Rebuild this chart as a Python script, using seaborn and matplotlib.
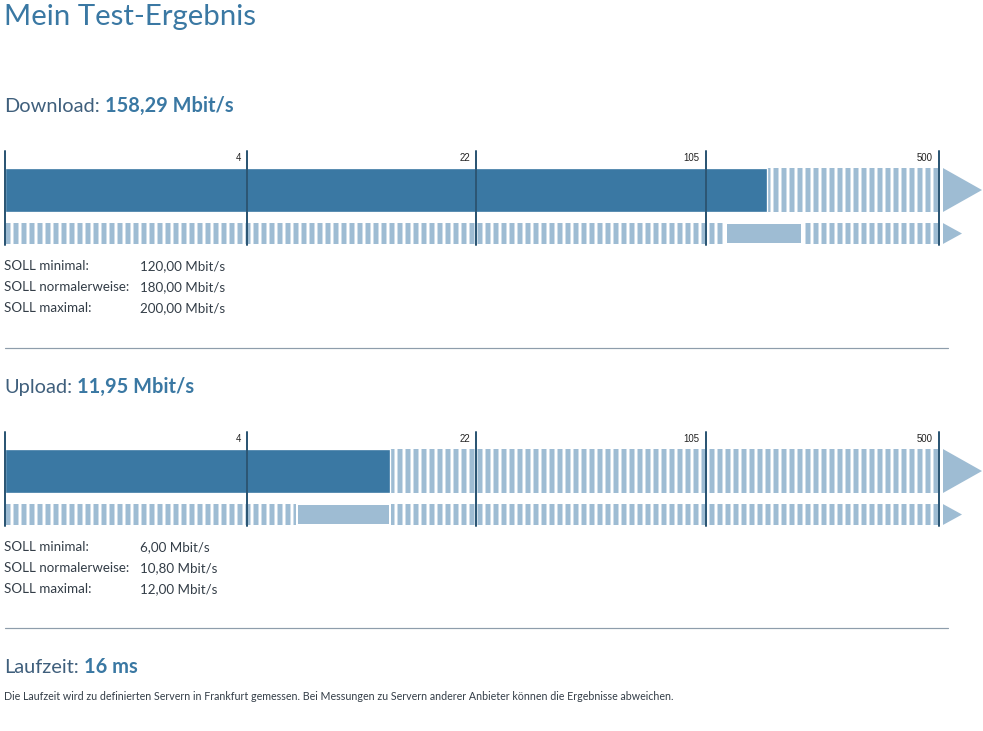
import numpy as np
import pandas as pd
import seaborn as sns
import matplotlib.pyplot as plt
from matplotlib.patches import Polygon
from matplotlib.lines import Line2D
from matplotlib.transforms import blended_transform_factory, offset_copy

# Skala und Messwerte
tick_values = [0, 4, 22, 105, 500]
tick_labels = ['', '4', '22', '105', '500']
download_value = 158.29
upload_value = 11.95
soll_names = ['SOLL minimal:', 'SOLL normalerweise:', 'SOLL maximal:']
download_soll = [120.0, 180.0, 200.0]   # minimal, normal, maximal
upload_soll = [6.0, 10.8, 12.0]
ping_ms = 16
footnote = ('Die Laufzeit wird zu definierten Servern in Frankfurt gemessen. '
            'Bei Messungen zu Servern anderer Anbieter können die Ergebnisse abweichen.')

# Farben
blue = '#3a78a3'
light = '#9ebcd3'
tickc = '#2c5674'
headc = '#3f5f7c'
textc = '#333d47'
linec = '#8e9dab'

sns.set_theme(style='white')
plt.rcParams['font.family'] = ['Lato', 'DejaVu Sans']
plt.rcParams['hatch.linewidth'] = 2.25

W, H, DPI = 983, 731, 96
fig = plt.figure(figsize=(W / DPI, H / DPI), dpi=DPI)
renderer = fig.canvas.get_renderer()


def mbit(v):
    return f'{v:.2f}'.replace('.', ',') + ' Mbit/s'


def heading(y, label, value_text):
    t = fig.text(4 / W, 1 - y / H, label, fontsize=15, color=headc, va='baseline')
    bb = t.get_window_extent(renderer)
    fig.text((bb.x1 + 5) / W, 1 - y / H, value_text, fontsize=15,
             fontweight='bold', color=blue, va='baseline')


def soll_block(y0, soll):
    for i, name in enumerate(soll_names):
        fig.text(4 / W, 1 - (y0 + i * 21) / H, name, fontsize=10, color=textc, va='baseline')
        fig.text(140 / W, 1 - (y0 + i * 21) / H, mbit(soll[i]), fontsize=10,
                 color=textc, va='baseline')


def speed_axes(top, value, soll):
    # Achse: 0 bei px 5, 500 bei px 939, log(1+x)-Skala
    ax = fig.add_axes([5 / W, 1 - (top + 94) / H, 978 / W, 94 / H])
    ax.set_xscale('function', functions=(np.log1p, np.expm1))
    x_right = np.expm1(np.log1p(500) * 978 / 934)
    main_h, soll_h = 1.01, 0.49

    # gemessener Wert
    df = pd.DataFrame({'row': ['Messung'], 'mbit': [value]})
    sns.barplot(data=df, x='mbit', y='row', orient='h', color=blue,
                saturation=1, width=main_h, ax=ax, zorder=2)

    # gestreifter Hintergrund
    ax.barh([0, 1], [500, 500], height=[main_h, soll_h], left=0, color=light,
            edgecolor='white', linewidth=0, hatch='||', zorder=0.5)
    # SOLL-Bereich min..max
    ax.barh(1, soll[2] - soll[0], left=soll[0], height=soll_h, color=light,
            edgecolor='white', linewidth=1.5, zorder=1)

    for v, lab in zip(tick_values, tick_labels):
        ax.axvline(v, color=tickc, lw=1.5, zorder=3, clip_on=False)
        ax.text(v, -0.74, lab, fontsize=7.2, family=['Liberation Sans', 'DejaVu Sans'],
                color='#222222', ha='right', va='center',
                transform=offset_copy(ax.transData, fig=fig, x=-6, y=0, units='dots'))

    # Pfeile rechts
    tr = blended_transform_factory(ax.transAxes, ax.transData)
    fx = lambda px: (px - 5) / 978
    ax.add_patch(Polygon([(fx(943), -main_h / 2), (fx(982), 0), (fx(943), main_h / 2)],
                         closed=True, transform=tr, color=light, lw=0, clip_on=False))
    ax.add_patch(Polygon([(fx(943), 1 - 0.24), (fx(962), 1), (fx(943), 1 + 0.24)],
                         closed=True, transform=tr, color=light, lw=0, clip_on=False))

    ax.set_xlim(0, x_right)
    ax.set_ylim(1.264, -0.897)
    ax.axis('off')
    return ax


fig.text(4 / W, 1 - 25 / H, 'Mein Test-Ergebnis', fontsize=22, color=blue, va='baseline')

# Download
heading(112, 'Download:', mbit(download_value))
speed_axes(151, download_value, download_soll)
soll_block(270, download_soll)
fig.add_artist(Line2D([5 / W, 948 / W], [1 - 348 / H] * 2, color=linec, lw=0.9))

# Upload
heading(393, 'Upload:', mbit(upload_value))
speed_axes(432, upload_value, upload_soll)
soll_block(551, upload_soll)
fig.add_artist(Line2D([5 / W, 948 / W], [1 - 628 / H] * 2, color=linec, lw=0.9))

# Laufzeit
heading(673, 'Laufzeit:', f'{ping_ms} ms')
fig.text(4 / W, 1 - 700 / H, footnote, fontsize=8.0, color=textc, va='baseline')

fig.savefig('out.png', dpi=DPI)
